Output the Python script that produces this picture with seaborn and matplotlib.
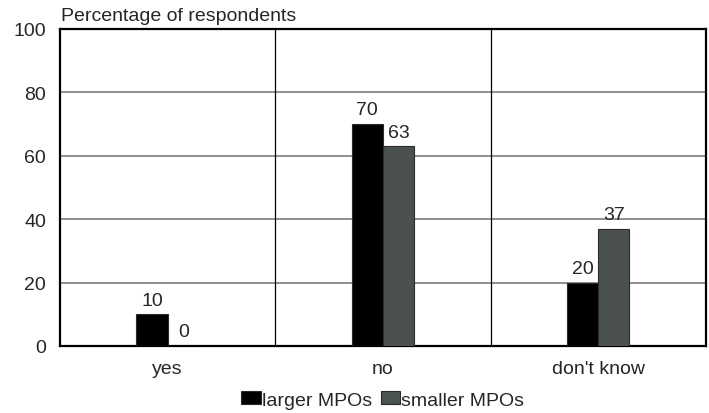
# Survey results: larger vs smaller MPOs, grouped bar chart
import pandas as pd
import matplotlib.pyplot as plt
import seaborn as sns
from matplotlib.patches import Patch

# --------------------------------------
# Data
# --------------------------------------
answers = ["yes", "no", "don't know"]
groups = ["larger MPOs", "smaller MPOs"]
larger = [10, 70, 20]
smaller = [0, 63, 37]

df = pd.DataFrame({
    "answer": answers * 2,
    "group": [groups[0]] * 3 + [groups[1]] * 3,
    "pct": larger + smaller,
})

colors = {"larger MPOs": "#000000", "smaller MPOs": "#4a5252"}

# --------------------------------------
# Plot
# --------------------------------------
sns.set_style("white")
plt.rcParams["font.family"] = ["Liberation Sans", "DejaVu Sans"]
plt.rcParams["font.size"] = 14

fig = plt.figure(figsize=(7.09, 4.14), dpi=100)
ax = fig.add_axes([0.0846, 0.162, 0.911, 0.766])

sns.barplot(data=df, x="answer", y="pct", hue="group", order=answers,
            hue_order=groups, palette=colors, width=0.29, ax=ax,
            edgecolor="#2a2a2a", linewidth=0.8, legend=False, zorder=3)

ax.set_ylim(0, 100)
ax.set_xlim(-0.5, 2.5)
ax.set_yticks([0, 20, 40, 60, 80, 100])
ax.set_xlabel("")
ax.set_ylabel("")

# grid lines: grey horizontals, black separators between categories
for y in [20, 40, 60, 80]:
    ax.axhline(y, color="#707070", linewidth=1.1, zorder=1)
for x in [0.5, 1.5]:
    ax.axvline(x, color="#000000", linewidth=0.9, zorder=1)

for s in ax.spines.values():
    s.set_visible(True)
    s.set_color("black")
    s.set_linewidth(1.6)

ax.tick_params(axis="y", length=0, pad=10, labelsize=14)
ax.tick_params(axis="x", length=0, pad=10, labelsize=14)

for cont in ax.containers:
    ax.bar_label(cont, fmt="%d", padding=4, fontsize=14)

fig.text(0.086, 1 - 25 / 414, "Percentage of respondents", fontsize=14,
         ha="left", va="bottom")

handles = [Patch(facecolor=colors[g], edgecolor="#2a2a2a", linewidth=0.8)
           for g in groups]
ax.legend(handles, groups, loc="center", bbox_to_anchor=(0.5, -0.17),
          ncol=2, frameon=False, handlelength=0.98, handleheight=0.67,
          handletextpad=0.05, columnspacing=0.5, fontsize=14,
          borderaxespad=0)

fig.savefig("out.png", dpi=100)
